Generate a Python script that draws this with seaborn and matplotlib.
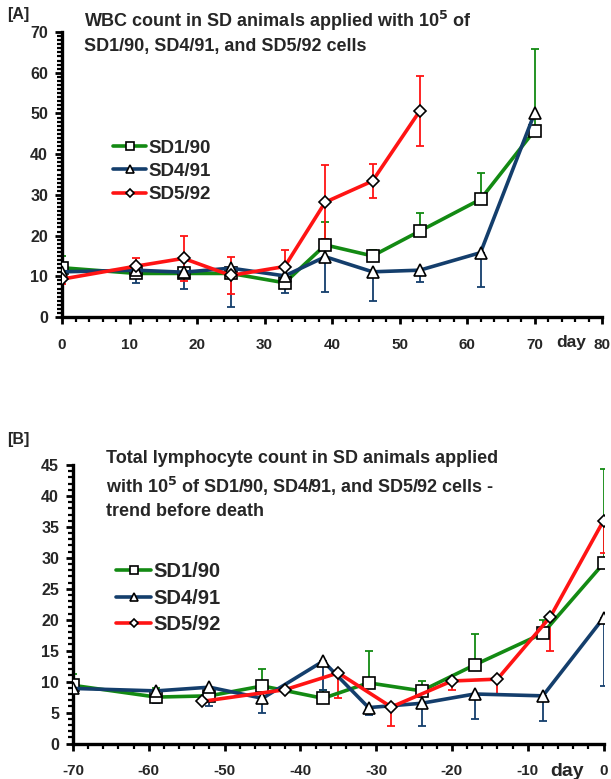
import matplotlib
matplotlib.use('Agg')
import matplotlib.pyplot as plt
from matplotlib.ticker import MultipleLocator
import seaborn as sns
import numpy as np

# ---- data ----
series = ['SD1/90', 'SD4/91', 'SD5/92']

# [A] WBC count, days after application
a_days_sd1 = [0, 11, 18, 25, 33, 39, 46, 53, 62, 70]
a_sd1 = [12.1, 10.7, 10.7, 10.7, 8.4, 17.7, 15.0, 21.1, 28.9, 45.8]
a_sd1_up = [3.0, 0, 0, 0, 0, 5.6, 1.5, 4.4, 6.5, 20.1]

a_days_sd4 = [0, 11, 18, 25, 33, 39, 46, 53, 62, 70]
a_sd4 = [11.1, 11.5, 11.0, 12.0, 10.1, 14.8, 11.1, 11.5, 15.8, 50.0]
a_sd4_down = [0, 3.2, 4.2, 9.5, 4.1, 8.6, 7.1, 2.8, 8.4, 0]

a_days_sd5 = [0, 11, 18, 25, 33, 39, 46, 53]
a_sd5 = [9.3, 12.5, 14.4, 10.2, 12.4, 28.2, 33.4, 50.6]
a_sd5_err = [1.1, 2.1, 5.6, 4.5, 4.0, 9.1, 4.2, 8.7]

# [B] total lymphocyte count, days before death
b_days_sd1 = [-70, -59, -52, -45, -37, -31, -24, -17, -8, 0]
b_sd1 = [9.4, 7.5, 7.7, 9.3, 7.3, 9.8, 8.5, 12.7, 17.8, 29.1]
b_sd1_up = [1.8, 1.4, 0, 2.8, 1.4, 5.2, 1.6, 5.0, 2.2, 15.2]

b_days_sd4 = [-70, -59, -52, -45, -37, -31, -24, -17, -8, 0]
b_sd4 = [8.9, 8.5, 9.1, 7.3, 13.3, 5.8, 6.5, 8.0, 7.7, 20.3]
b_sd4_down = [0, 2.0, 3.1, 2.4, 4.6, 1.2, 3.6, 4.0, 4.0, 11.0]

b_days_sd5 = [-53, -42, -35, -28, -20, -14, -7, 0]
b_sd5 = [6.8, 8.7, 11.4, 5.9, 10.1, 10.4, 20.5, 36.0]
b_sd5_down = [0, 0, 4.1, 3.0, 1.4, 2.4, 5.5, 5.2]

colors = {'SD1/90': '#138a13', 'SD4/91': '#143e6c', 'SD5/92': '#ff1414'}
markers = {'SD1/90': ('s', 8.5), 'SD4/91': ('^', 8.5), 'SD5/92': ('D', 6)}

sns.set_style('ticks')
plt.rcParams['font.family'] = ['Liberation Sans', 'DejaVu Sans']
plt.rcParams['font.weight'] = 'bold'
plt.rcParams['axes.unicode_minus'] = False

fig = plt.figure(figsize=(6.11, 7.79), dpi=100)
ax_a = fig.add_axes([62 / 611, 1 - 317 / 779, (602 - 62) / 611, (317 - 32) / 779])
ax_b = fig.add_axes([73 / 611, 1 - 743.5 / 779, (603.5 - 73) / 611, (743.5 - 465) / 779])


def draw_series(ax, name, days, vals, lo, hi):
    c = colors[name]
    m, ms = markers[name]
    days = np.array(days)
    vals = np.array(vals)
    lo = np.array(lo, dtype=float)
    hi = np.array(hi, dtype=float)
    keep = (lo > 0) | (hi > 0)
    ax.errorbar(days[keep], vals[keep], yerr=[lo[keep], hi[keep]], fmt='none',
                ecolor=c, elinewidth=1.3, capsize=3, capthick=1.3, zorder=2)
    sns.lineplot(x=days, y=vals, ax=ax, color=c, lw=2.6, marker=m, markersize=ms,
                 markerfacecolor='white', markeredgecolor='black', markeredgewidth=1.2,
                 label=name, zorder=3)


zeros = lambda v: [0] * len(v)
draw_series(ax_a, 'SD1/90', a_days_sd1, a_sd1, zeros(a_sd1), a_sd1_up)
draw_series(ax_a, 'SD4/91', a_days_sd4, a_sd4, a_sd4_down, zeros(a_sd4))
draw_series(ax_a, 'SD5/92', a_days_sd5, a_sd5, a_sd5_err, a_sd5_err)

draw_series(ax_b, 'SD1/90', b_days_sd1, b_sd1, zeros(b_sd1), b_sd1_up)
draw_series(ax_b, 'SD4/91', b_days_sd4, b_sd4, b_sd4_down, zeros(b_sd4))
draw_series(ax_b, 'SD5/92', b_days_sd5, b_sd5, b_sd5_down, zeros(b_sd5))

for ax, xl, yl, ystep, fs, ls in [(ax_a, (0, 80), (0, 70), 10, 13.5, 0.33),
                                  (ax_b, (-70, 0), (0, 45), 5, 14.5, 0.38)]:
    ax.set_xlim(*xl)
    ax.set_ylim(*yl)
    ax.set_xlabel('')
    ax.set_ylabel('')
    ax.xaxis.set_major_locator(MultipleLocator(10))
    ax.xaxis.set_minor_locator(MultipleLocator(2))
    ax.yaxis.set_major_locator(MultipleLocator(ystep))
    ax.yaxis.set_minor_locator(MultipleLocator(1))
    for s in ['top', 'right']:
        ax.spines[s].set_visible(False)
    for s in ['left', 'bottom']:
        ax.spines[s].set_linewidth(2.4)
        ax.spines[s].set_color('black')
    ax.tick_params(axis='both', which='major', length=5, width=2, color='black',
                   labelsize=11.5, direction='out')
    ax.tick_params(axis='x', which='major', labelsize=11, pad=10)
    ax.tick_params(axis='both', which='minor', length=3.5, width=1.6, color='black',
                   direction='out')
    ax.tick_params(axis='y', which='major', pad=5)
    for lab in ax.get_xticklabels() + ax.get_yticklabels():
        lab.set_fontweight('bold')
    ax.set_facecolor('white')
    ax.legend(frameon=False, prop={'size': fs, 'weight': 'bold'}, handlelength=1.75,
              handletextpad=0.1, labelspacing=ls, borderaxespad=0, markerscale=0.7)

ax_a.get_legend().set_bbox_to_anchor((106 / 611, 1 - 132 / 779), transform=fig.transFigure)
ax_a.get_legend()._loc = 2
ax_b.get_legend().set_bbox_to_anchor((108 / 611, 1 - 554 / 779), transform=fig.transFigure)
ax_b.get_legend()._loc = 2

fig.text(7 / 611, 1 - 15 / 779, '[A]', fontsize=11.5, fontweight='bold', va='center')
fig.text(7 / 611, 1 - 440 / 779, '[B]', fontsize=11.5, fontweight='bold', va='center')
fig.text(84 / 611, 1 - 9 / 779,
         'WBC count in SD animals applied with 10$^\\mathbf{5}$ of\nSD1/90, SD4/91, and SD5/92 cells',
         fontsize=13, fontweight='bold', va='top', linespacing=1.4)
fig.text(106 / 611, 1 - 450 / 779,
         'Total lymphocyte count in SD animals applied\nwith 10$^\\mathbf{5}$ of SD1/90, SD4/91, and SD5/92 cells -\ntrend before death',
         fontsize=13, fontweight='bold', va='top', linespacing=1.42)
fig.text(571 / 611, 1 - 343 / 779, 'day', fontsize=12.5, fontweight='bold', va='center',
         ha='center')
fig.text(567 / 611, 1 - 771 / 779, 'day', fontsize=14, fontweight='bold', va='center',
         ha='center')

fig.savefig('out.png', dpi=100, facecolor='white')
